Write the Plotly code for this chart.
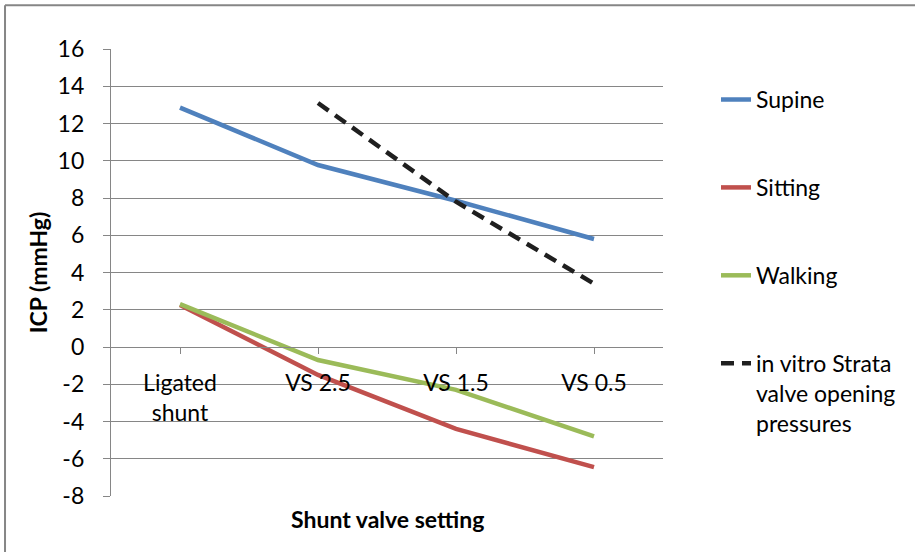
import plotly.graph_objects as go

categories = ["Ligated<br>shunt", "VS 2.5", "VS 1.5", "VS 0.5"]
supine = [12.85, 9.77, 7.85, 5.8]
sitting = [2.25, -1.5, -4.4, -6.45]
walking = [2.3, -0.7, -2.3, -4.8]
in_vitro_cats = ["VS 2.5", "VS 1.5", "VS 0.5"]
in_vitro = [13.1, 7.8, 3.4]
y_ticks = [-8, -6, -4, -2, 0, 2, 4, 6, 8, 10, 12, 14, 16]

series_names = ["Supine", "Sitting", "Walking", "in vitro Strata<br>valve opening<br>pressures"]
colors = ["#4F81BD", "#C0504D", "#9BBB59", "#1F1F1F"]

FONT = "Lato"
FS = 23
GRID = "#868686"

fig = go.Figure()
for name, ys, col, grp in [(series_names[0], supine, colors[0], "a"),
                           (series_names[1], sitting, colors[1], "b"),
                           (series_names[2], walking, colors[2], "c")]:
    fig.add_trace(go.Scatter(x=categories, y=ys, mode="lines", name=name,
                             legendgroup=grp,
                             line=dict(color=col, width=4.5)))
fig.add_trace(go.Scatter(x=in_vitro_cats, y=in_vitro, mode="lines", name=series_names[3],
                         legendgroup="d",
                         line=dict(color=colors[3], width=4.5, dash="13px,8px")))

fig.update_layout(
    width=915, height=552,
    margin=dict(l=111, r=252, t=49, b=56),
    paper_bgcolor="white", plot_bgcolor="white",
    font=dict(family=FONT, size=FS, color="#000000"),
    showlegend=True,
    legend=dict(x=1.096, xanchor="left", y=0.935, yanchor="top",
                tracegroupgap=55, traceorder="grouped", valign="top",
                font=dict(family=FONT, size=FS, color="#000000"),
                itemwidth=30, bgcolor="rgba(0,0,0,0)"),
    xaxis=dict(type="category", categoryorder="array", categoryarray=categories,
               range=[-0.5, 3.5], anchor="free", position=1/3,
               showline=True, linecolor=GRID, linewidth=1.3,
               ticks="outside", ticklen=6, tickcolor=GRID, tickwidth=1.3,
               ticklabelstandoff=9,
               showgrid=False, zeroline=False,
               tickfont=dict(family=FONT, size=FS, color="#000000")),
    yaxis=dict(range=[-8, 16], tickvals=y_ticks, ticktext=[str(v) for v in y_ticks],
               showline=True, linecolor=GRID, linewidth=1.3,
               ticks="outside", ticklen=7, tickcolor=GRID, tickwidth=1.3,
               ticklabelstandoff=14,
               showgrid=True, gridcolor=GRID, gridwidth=1.3,
               zeroline=False,
               tickfont=dict(family=FONT, size=FS, color="#000000"),
               title=dict(text="<b>ICP (mmHg)</b>", standoff=3,
                          font=dict(family=FONT, size=FS, color="#000000"))),
)

# x-axis title
fig.add_annotation(text="<b>Shunt valve setting</b>", xref="paper", yref="paper",
                   x=0.5, y=-0.051, xanchor="center", yanchor="middle", showarrow=False,
                   font=dict(family=FONT, size=FS, color="#000000"))

# outer chart border (visible on top and left)
fig.add_shape(type="line", xref="paper", yref="paper",
              x0=-0.192, x1=-0.192, y0=-0.2, y1=1.098,
              line=dict(color=GRID, width=2))
fig.add_shape(type="line", xref="paper", yref="paper",
              x0=-0.192, x1=1.5, y0=1.098, y1=1.098,
              line=dict(color=GRID, width=2))

fig.write_html("out.html")
